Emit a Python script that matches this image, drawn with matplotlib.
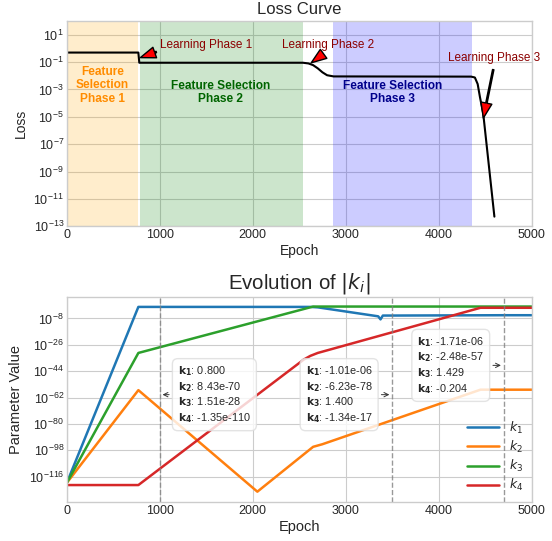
import matplotlib
matplotlib.use("Agg")
import matplotlib.pyplot as plt

plt.style.use("seaborn-v0_8-whitegrid")
plt.rcParams["font.family"] = ["Liberation Sans", "DejaVu Sans"]

# --- loss curve ---
loss_epochs = [0, 770, 780, 2540, 2600, 2650, 2700, 2750, 2800, 2870,
               4350, 4390, 4420, 4445, 4480, 4600]
loss_values = [0.5, 0.5, 0.09, 0.09, 0.08, 0.06, 0.035, 0.018, 0.011, 0.009,
               0.0087, 0.0075, 0.0025, 2.7e-4, 1.7e-5, 5e-13]

# phases: (start, end, fill colour, text colour, label)
phase_starts = [0, 785, 2860]
phase_ends = [765, 2540, 4360]
phase_fill = ["orange", "green", "blue"]
phase_text_color = ["darkorange", "darkgreen", "darkblue"]
phase_labels = ["Feature\nSelection\nPhase 1", "Feature Selection\nPhase 2",
                "Feature Selection\nPhase 3"]
phase_label_x = [385, 1650, 3500]
phase_label_y = [2e-3, 6e-4, 6e-4]

learn_labels = ["Learning Phase 1", "Learning Phase 2", "Learning Phase 3"]
learn_xy = [(780, 0.2), (2620, 0.08), (4475, 5e-6)]
learn_text_xy = [(1500, 1.9), (2810, 1.9), (4600, 0.2)]

# --- parameter trajectories |k_i| ---
k1_epochs = [0, 770, 2620, 2700, 3350, 3375, 3400, 3500, 4700, 5000]
k1_values = [6e-121, 0.8, 0.8, 0.4, 3e-7, 2.5e-9, 1e-6, 1.01e-6, 1.71e-6, 1.71e-6]
k2_epochs = [0, 770, 2050, 2650, 2750, 4450, 5000]
k2_values = [6e-121, 1.2e-57, 6e-127, 2.5e-96, 1.5e-94, 2.48e-57, 2.48e-57]
k3_epochs = [0, 770, 2650, 4700, 5000]
k3_values = [6e-121, 3e-32, 1.4, 1.429, 1.429]
k4_epochs = [0, 770, 2550, 2620, 2700, 4450, 4700, 5000]
k4_values = [2e-122, 2e-122, 1e-36, 3e-34, 3e-32, 0.204, 0.204, 0.204]

k_colors = ["#1f77b4", "#ff7f0e", "#2ca02c", "#d62728"]
k_labels = ["$k_1$", "$k_2$", "$k_3$", "$k_4$"]

snap_epochs = [1000, 3500, 4700]
snap_text = [
    "$\\mathbf{k_1}$: 0.800\n$\\mathbf{k_2}$: 8.43e-70\n$\\mathbf{k_3}$: 1.51e-28\n$\\mathbf{k_4}$: -1.35e-110",
    "$\\mathbf{k_1}$: -1.01e-06\n$\\mathbf{k_2}$: -6.23e-78\n$\\mathbf{k_3}$: 1.400\n$\\mathbf{k_4}$: -1.34e-17",
    "$\\mathbf{k_1}$: -1.71e-06\n$\\mathbf{k_2}$: -2.48e-57\n$\\mathbf{k_3}$: 1.429\n$\\mathbf{k_4}$: -0.204",
]
snap_y = [1e-60, 1e-60, 1e-40]
snap_offset = [(13, 0), (-14, 0), (-14, 0)]
snap_ha = ["left", "right", "right"]

fig, (ax1, ax2) = plt.subplots(2, 1, figsize=(5.52, 5.41), dpi=100)
plt.subplots_adjust(left=0.121, right=0.963, top=0.961, bottom=0.072, hspace=0.345)

# top: loss
for s, e, fc, tc, lab, lx, ly in zip(phase_starts, phase_ends, phase_fill,
                                     phase_text_color, phase_labels,
                                     phase_label_x, phase_label_y):
    ax1.axvspan(s, e, color=fc, alpha=0.2, lw=0)
    ax1.text(lx, ly, lab, color=tc, fontsize=8.6, fontweight="bold",
             ha="center", va="center")

ax1.plot(loss_epochs, loss_values, color="black", lw=1.5)
ax1.set_yscale("log")
ax1.set_xlim(0, 5000)
ax1.set_ylim(1e-13, 1e2)
ax1.set_yticks([10.0 ** e for e in range(1, -14, -2)])
ax1.minorticks_off()

for lab, xy, txy in zip(learn_labels, learn_xy, learn_text_xy):
    ax1.annotate(lab, xy=xy, xytext=txy, color="darkred", fontsize=8.5,
                 ha="center", va="center",
                 arrowprops=dict(facecolor="red", shrink=0.05, width=1,
                                 headwidth=8, headlength=11))

ax1.set_title("Loss Curve", fontsize=12, pad=5)
ax1.set_xlabel("Epoch", fontsize=10, labelpad=2)
ax1.set_ylabel("Loss", fontsize=10)
ax1.tick_params(labelsize=9, pad=2)

# bottom: |k_i|
k_epochs = [k1_epochs, k2_epochs, k3_epochs, k4_epochs]
k_values = [k1_values, k2_values, k3_values, k4_values]
for ep, val, c, lab in zip(k_epochs, k_values, k_colors, k_labels):
    ax2.plot(ep, val, color=c, lw=1.8, label=lab)

ax2.set_yscale("log")
ax2.set_xlim(0, 5000)
ax2.set_ylim(10.0 ** -133.3, 10.0 ** 6.7)
ax2.set_yticks([10.0 ** e for e in range(-8, -117, -18)])
ax2.minorticks_off()

for ep, txt, y, off, ha in zip(snap_epochs, snap_text, snap_y, snap_offset, snap_ha):
    ax2.axvline(ep, color="gray", ls="--", lw=1, alpha=0.8)
    ax2.annotate(txt, xy=(ep, y), xytext=off, textcoords="offset points",
                 ha=ha, va="center", multialignment="left", fontsize=7.8,
                 bbox=dict(boxstyle="round,pad=0.5", fc="white", ec="#dddddd",
                           alpha=0.8),
                 arrowprops=dict(arrowstyle="->", color="#333333", lw=0.7))

ax2.legend(loc="lower right", fontsize=9, handlelength=2.5, labelspacing=0.25,
           borderaxespad=0.3)
ax2.set_title("Evolution of $|k_i|$", fontsize=14.8, pad=6)
ax2.set_xlabel("Epoch", fontsize=10.5, labelpad=2)
ax2.set_ylabel("Parameter Value", fontsize=10.5)
ax2.tick_params(labelsize=9, pad=2)

fig.savefig("out.png", dpi=100)
